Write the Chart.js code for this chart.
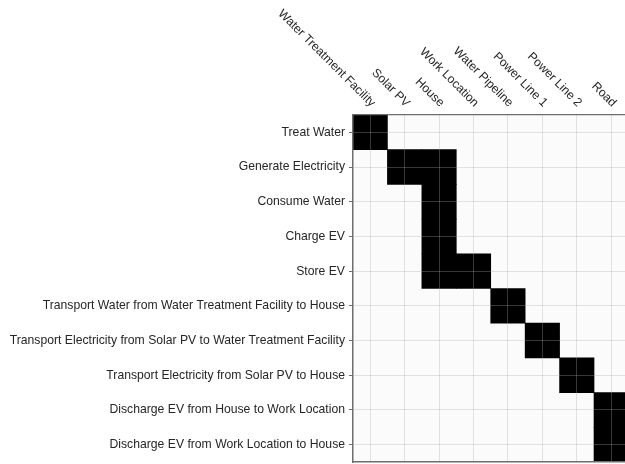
<!DOCTYPE html>
<html lang="en">
<head>
<meta charset="UTF-8">
<title>Process / Entity Matrix</title>
<script src="https://cdn.jsdelivr.net/npm/chart.js"></script>
<style>
    body {
        margin: 0;
        background: #ffffff;
    }

    .wrap {
        position: relative;
        width: 625px;
        height: 464px;
    }
</style>
</head>
<body>

<div class="wrap">
    <canvas id="matrixChart"></canvas>
</div>

<script>
    const entities = ['Water Treatment Facility', 'Solar PV', 'House', 'Work Location',
        'Water Pipeline', 'Power Line 1', 'Power Line 2', 'Road'];

    const processes = [
        'Treat Water',
        'Generate Electricity',
        'Consume Water',
        'Charge EV',
        'Store EV',
        'Transport Water from Water Treatment Facility to House',
        'Transport Electricity from Solar PV to Water Treatment Facility',
        'Transport Electricity from Solar PV to House',
        'Discharge EV from House to Work Location',
        'Discharge EV from Work Location to House'
    ];

    // 1 = the process uses that entity (one row per process)
    const usage = [
        [1, 0, 0, 0, 0, 0, 0, 0],
        [0, 1, 1, 0, 0, 0, 0, 0],
        [0, 0, 1, 0, 0, 0, 0, 0],
        [0, 0, 1, 0, 0, 0, 0, 0],
        [0, 0, 1, 1, 0, 0, 0, 0],
        [0, 0, 0, 0, 1, 0, 0, 0],
        [0, 0, 0, 0, 0, 1, 0, 0],
        [0, 0, 0, 0, 0, 0, 1, 0],
        [0, 0, 0, 0, 0, 0, 0, 1],
        [0, 0, 0, 0, 0, 0, 0, 1]
    ];

    const FONT = '"Liberation Sans", Arial, sans-serif';
    const TEXT = '#262626';
    const GRID = 'rgba(170, 170, 170, 0.32)';
    const AXIS = '#6e6e6e';

    // one dataset per entity column, each cell a floating bar [c-0.5, c+0.5]
    const datasets = entities.map((name, c) => ({
        label: name,
        data: usage.map(row => row[c] ? [c - 0.5, c + 0.5] : null),
        backgroundColor: '#000000',
        borderWidth: 0,
        grouped: false,
        barPercentage: 1,
        categoryPercentage: 1
    }));

    // plot background (slightly off-white like the original)
    const plotBg = {
        id: 'plotBg',
        beforeDraw(chart) {
            const {ctx, chartArea: a} = chart;
            ctx.save();
            ctx.fillStyle = '#fbfbfb';
            ctx.fillRect(a.left, a.top, a.right - a.left, a.bottom - a.top);
            ctx.restore();
        }
    };

    // column names along the top, slanted down towards their tick
    const topLabels = {
        id: 'topLabels',
        afterDraw(chart) {
            const {ctx, chartArea} = chart;
            const x = chart.scales.x;
            ctx.save();
            ctx.font = '12.2px ' + FONT;
            ctx.fillStyle = TEXT;
            ctx.textAlign = 'right';
            ctx.textBaseline = 'middle';
            entities.forEach((name, i) => {
                ctx.save();
                ctx.translate(x.getPixelForValue(i) + 3, chartArea.top - 10);
                ctx.rotate(Math.PI / 4);
                ctx.fillText(name, 0, 0);
                ctx.restore();
            });
            ctx.restore();
        }
    };

    new Chart(document.getElementById('matrixChart').getContext('2d'), {
        type: 'bar',
        data: {
            labels: processes,
            datasets: datasets
        },
        options: {
            indexAxis: 'y',
            responsive: true,
            maintainAspectRatio: false,
            animation: false,
            layout: {padding: {left: 0, right: 0, top: 0, bottom: 1}},
            plugins: {
                legend: {display: false},
                tooltip: {enabled: false}
            },
            scales: {
                x: {
                    type: 'linear',
                    position: 'top',
                    min: -0.5,
                    max: 7.4,
                    afterBuildTicks: s => { s.ticks = entities.map((_, i) => ({value: i})); },
                    afterFit: s => { s.height = 115; },
                    ticks: {display: false},
                    grid: {color: GRID, drawTicks: false, lineWidth: 1, z: 1},
                    border: {display: true, color: AXIS, width: 1.2, z: 2}
                },
                xb: {
                    type: 'linear',
                    position: 'bottom',
                    min: -0.5,
                    max: 7.4,
                    afterBuildTicks: s => { s.ticks = entities.map((_, i) => ({value: i})); },
                    afterFit: s => { s.height = 1; },
                    ticks: {display: false},
                    grid: {drawOnChartArea: false, drawTicks: false},
                    border: {display: true, color: AXIS, width: 1.5, z: 2}
                },
                y: {
                    type: 'category',
                    offset: true,
                    afterFit: s => {
                        s.width = 353;
                        s.paddingTop = 0;
                        s.paddingBottom = 0;
                    },
                    ticks: {
                        color: TEXT,
                        padding: 4,
                        font: {family: FONT, size: 12.2}
                    },
                    grid: {color: GRID, offset: false, tickLength: 4, tickColor: AXIS, z: 1},
                    border: {display: true, color: AXIS, width: 1.5, z: 2}
                }
            }
        },
        plugins: [plotBg, topLabels]
    });
</script>

</body>
</html>
